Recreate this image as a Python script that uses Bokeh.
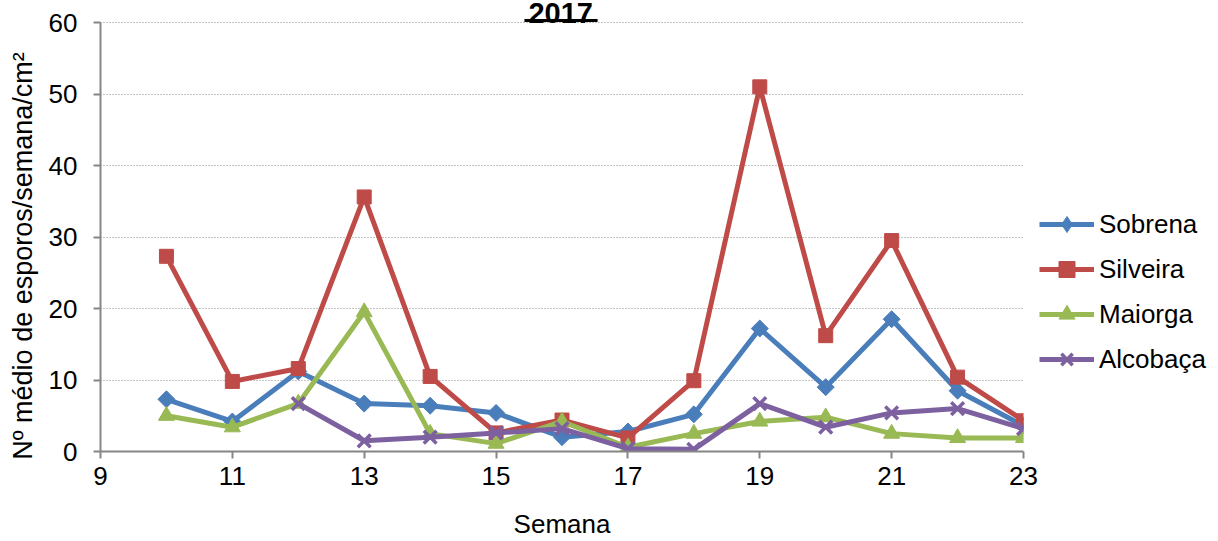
from bokeh.plotting import figure
from bokeh.layouts import row
from bokeh.models import Legend, LegendItem, Label, Arrow, FixedTicker
from bokeh.embed import file_html
from bokeh.resources import INLINE

weeks = [10, 11, 12, 13, 14, 15, 16, 17, 18, 19, 20, 21, 22, 23]
sobrena = [7.3, 4.2, 11.2, 6.7, 6.4, 5.4, 2.0, 2.8, 5.2, 17.2, 9.0, 18.5, 8.5, 3.6]
silveira = [27.3, 9.8, 11.6, 35.6, 10.5, 2.6, 4.4, 1.9, 9.9, 51.0, 16.2, 29.5, 10.4, 4.3]
maiorga = [5.0, 3.4, 6.7, 19.5, 2.5, 1.1, 4.2, 0.6, 2.5, 4.2, 4.8, 2.5, 1.9, 1.9]
weeks_alc = [12, 13, 14, 15, 16, 17, 18, 19, 20, 21, 22, 23]
alcobaca = [6.7, 1.5, 2.0, 2.6, 3.2, 0.4, 0.3, 6.7, 3.4, 5.4, 6.0, 3.2]

x_ticks = [9, 11, 13, 15, 17, 19, 21, 23]
y_ticks = [0, 10, 20, 30, 40, 50, 60]

FONT = "Liberation Sans"
GRAY = "#868686"

# frame reaches the top of the canvas so the (partly cut) title can sit inside it;
# 60 lands 22px below the top (429px for 60 units)
Y_TOP = 60 + 22 * 60 / 429

p = figure(width=1039, height=541, output_backend="svg", toolbar_location=None,
           x_range=(9, 23), y_range=(0, Y_TOP),
           min_border_left=100, min_border_right=16, min_border_top=0, min_border_bottom=90)
p.outline_line_color = None
p.background_fill_color = "white"

p.xaxis.ticker = FixedTicker(ticks=x_ticks)
p.yaxis.ticker = FixedTicker(ticks=y_ticks)
p.yaxis.bounds = (0, 60)
for ax in (p.xaxis[0], p.yaxis[0]):
    ax.axis_line_color = GRAY
    ax.axis_line_width = 2
    ax.major_tick_line_color = GRAY
    ax.major_tick_line_width = 2
    ax.major_tick_in = 0
    ax.major_tick_out = 7
    ax.minor_tick_line_color = None
    ax.major_label_text_font = FONT
    ax.major_label_text_font_size = "26px"
    ax.major_label_text_color = "black"
    ax.axis_label_text_font = FONT
    ax.axis_label_text_font_size = "26px"
    ax.axis_label_text_font_style = "normal"
    ax.axis_label_text_color = "black"

p.xaxis.axis_label = "Semana"
p.xaxis.major_label_standoff = 8
p.xaxis.axis_label_standoff = 21
p.yaxis.axis_label = "Nº  médio de esporos/semana/cm²" + " " * 7
p.yaxis.axis_label_text_font_size = "27px"
p.yaxis.major_label_standoff = 16
p.yaxis.axis_label_standoff = 8

p.xgrid.grid_line_color = None
p.ygrid.grid_line_color = GRAY
p.ygrid.grid_line_dash = "1 2"
p.ygrid.grid_line_width = 1.2

series = [
    ("Sobrena", weeks, sobrena, "#4A7EBB", "square", 12, 0.785398, "diamond"),
    ("Silveira", weeks, silveira, "#BE4B48", "square", 14, 0.0, "square"),
    ("Maiorga", weeks, maiorga, "#98B954", "triangle", 16, 0.0, "triangle"),
    ("Alcobaça", weeks_alc, alcobaca, "#7D60A0", "x", 18, 0.0, "x"),
]

# narrow figure to the right that holds only the legend (its renderers are out of view)
lf = figure(width=179, height=541, output_backend="svg", toolbar_location=None,
            x_range=(0, 1), y_range=(0, 1), min_border=0)
lf.axis.visible = False
lf.grid.grid_line_color = None
lf.outline_line_color = None

items = []
for name, xs, ys, color, marker, size, ang, lmarker in series:
    p.line(xs, ys, line_color=color, line_width=5)
    if marker == "x":
        p.scatter(xs, ys, marker=marker, size=size, line_color=color, line_width=3.5)
        l2 = lf.scatter(xs, ys, marker=lmarker, size=size, line_color=color, line_width=3.5)
    else:
        p.scatter(xs, ys, marker=marker, size=size, angle=ang,
                  fill_color=color, line_color=color)
        l2 = lf.scatter(xs, ys, marker=lmarker, size=size,
                        fill_color=color, line_color=color)
    l1 = lf.line(xs, ys, line_color=color, line_width=5)
    items.append(LegendItem(label=name, renderers=[l1, l2]))

legend = Legend(items=items, location=(0, 72))
legend.label_text_font = FONT
legend.label_text_font_size = "26px"
legend.label_text_color = "black"
legend.glyph_width = 55
legend.glyph_height = 40
legend.label_standoff = 5
legend.spacing = 5
legend.padding = 0
legend.margin = 0
legend.border_line_color = None
legend.background_fill_alpha = 0
lf.add_layout(legend, "center")

title = Label(x=15.98, y=61.26, text="2017", text_font=FONT, text_font_size="29px",
              text_font_style="bold", text_align="center", text_baseline="alphabetic",
              text_color="black")
p.add_layout(title)
underline = Arrow(x_start=15.43, x_end=16.54, y_start=60.28, y_end=60.28,
                  start=None, end=None, line_color="black", line_width=3)
p.add_layout(underline)

layout = row(p, lf, spacing=0)
open("out.html", "w").write(file_html(layout, INLINE))
